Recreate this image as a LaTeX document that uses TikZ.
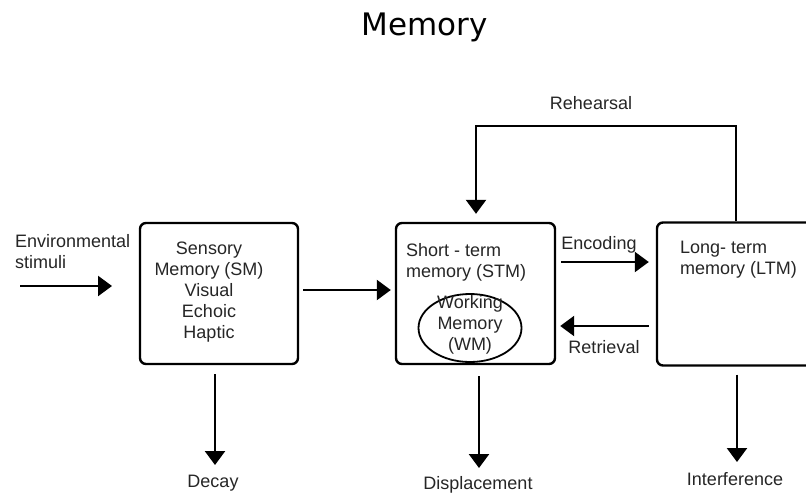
\documentclass[tikz,border=0pt]{standalone}
\usepackage{fontspec}
\setmainfont{Liberation Sans}
\newfontfamily\titlefont{DejaVu Sans}
\usetikzlibrary{arrows.meta,shapes.geometric}
\begin{document}
\begin{tikzpicture}[x=1pt,y=-1pt,
  lbl/.style={font=\fontsize{18}{21}\selectfont, text=black!85, inner sep=0pt},
  box/.style={draw, line width=2.4pt, rounded corners=6pt, inner sep=0pt},
  arr/.style={line width=2.4pt, -{Triangle[width=20pt,length=14pt]}},
  ln/.style={line width=2.4pt}]
\clip (0,0) rectangle (806,493);
\fill[white] (0,0) rectangle (806,493);

% title
\node[font=\titlefont\fontsize{31}{36}\selectfont, anchor=base, inner sep=0pt] (title) at (425,35) {Memory};

% boxes
\node[box, minimum width=158pt, minimum height=141pt] (sm) at (219,293.5) {};
\node[box, minimum width=159pt, minimum height=141pt] (stm) at (475.5,293.5) {};
\node[box, minimum width=172pt, minimum height=143pt] (ltm) at (743,294) {};
\node[draw, ellipse, line width=1.8pt, minimum width=103pt, minimum height=68pt, inner sep=0pt] (wm) at (470,328) {};

% box texts
\node[lbl, align=center] (smtext) at (209,292) {Sensory\\Memory (SM)\\Visual\\Echoic\\Haptic};
\node[lbl, align=left, anchor=west] (stmtext) at (406,262) {Short - term\\memory (STM)};
\node[lbl, align=left, anchor=west] (ltmtext) at (680,260) {Long- term\\memory (LTM)};
\node[lbl, align=center] (wmtext) at (470,325) {Working\\Memory\\(WM)};

% other labels
\node[lbl, align=left, anchor=west] (env) at (15,252) {Environmental\\stimuli};
\node[lbl] (reh) at (591,103) {Rehearsal};
\node[lbl] (enc) at (599,245) {Encoding};
\node[lbl] (ret) at (604,347) {Retrieval};
\node[lbl] (decay) at (213,483) {Decay};
\node[lbl] (disp) at (478,485) {Displacement};
\node[lbl] (interf) at (735,479) {Interference};

% helper coordinates
\coordinate (e0) at (20,286);
\coordinate (e1) at (112,286);
\coordinate (encY) at (0,262);
\coordinate (retY) at (0,326);
\coordinate (smY) at (0,290);
\coordinate (rR) at (736,126);
\coordinate (rL) at (476,126);

% connectors
\draw[arr] (e0) -- (e1);
\draw[arr, shorten <=4pt, shorten >=4pt] (sm.east |- smY) -- (stm.west |- smY);
\draw[arr, shorten <=5pt, shorten >=7pt] (stm.east |- encY) -- (ltm.west |- encY);
\draw[arr, shorten <=7pt, shorten >=4pt] (ltm.west |- retY) -- (stm.east |- retY);
\draw[arr, shorten >=8pt] (ltm.north -| rR) -- (rR) -- (rL) -- (stm.north -| rL);
\draw[arr, shorten <=9pt, shorten >=8pt] (sm.south -| 215,0) -- (215,473);
\draw[arr, shorten <=11pt, shorten >=7pt] (stm.south -| 479,0) -- (479,475);
\draw[arr, shorten <=8pt, shorten >=8pt] (ltm.south -| 737,0) -- (737,470);
\end{tikzpicture}
\end{document}
